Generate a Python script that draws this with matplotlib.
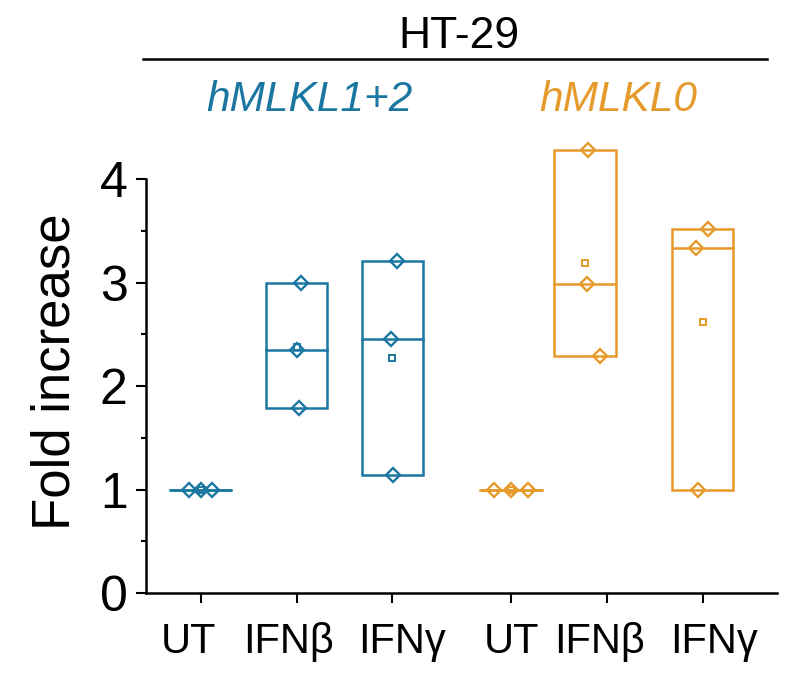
import matplotlib
matplotlib.use("Agg")
import matplotlib.pyplot as plt
import matplotlib.patches as patches
import matplotlib.transforms as mtransforms
from matplotlib.lines import Line2D
import numpy as np

plt.rcParams['font.family'] = ['Liberation Sans', 'DejaVu Sans']

conditions = ['UT', 'IFNβ', 'IFNγ']
cell_line = 'HT-29'
constructs = ['hMLKL1+2', 'hMLKL0']
colors = ['#1b77a1', '#e59a2b']

# fold increase, three replicates per condition
mlkl12_values = [[1.0, 1.0, 1.0], [3.0, 2.35, 1.79], [3.21, 2.45, 1.14]]
mlkl0_values = [[1.0, 1.0, 1.0], [4.28, 2.99, 2.29], [3.52, 3.33, 1.0]]

# layout only
xpos = [1, 2, 3, 4.24, 5.24, 6.24]
box_shift = [0, 0, 0, 0, -0.23, 0]
jitter = [[-0.12, 0, 0.12], [0.045, 0, 0.024], [0.046, -0.017, 0.007],
          [-0.18, 0, 0.18], [0.03, 0.02, 0.16], [0.055, -0.07, -0.05]]
label_shift_px = [-12, -8, 10, 0, -7, 11]
box_w = 0.64

W, H = 809, 687
fig = plt.figure(figsize=(W / 100, H / 100), dpi=100)
ax = fig.add_axes([146 / W, 1 - 593 / H, (777 - 146) / W, (593 - 137.6) / H])

groups = mlkl12_values + mlkl0_values
for i, vals in enumerate(groups):
    col = colors[0] if i < 3 else colors[1]
    vals = np.array(vals)
    c = xpos[i] + box_shift[i]
    lo, hi = vals.min(), vals.max()
    med = np.median(vals)
    ax.add_patch(patches.Rectangle((c - box_w / 2, lo), box_w, hi - lo,
                                   fill=False, edgecolor=col, lw=1.8, zorder=2))
    ax.plot([c - box_w / 2, c + box_w / 2], [med, med], color=col, lw=1.8, zorder=2)
    ax.plot(c + np.array(jitter[i]), vals, 'D', ms=7, mfc='none', mec=col,
            mew=1.7, zorder=3, clip_on=False)
    ax.plot([c], [vals.mean()], 's', ms=4.2, mfc='none', mec=col, mew=1.4,
            zorder=3, clip_on=False)

ax.set_xlim(0.428, 7.016)
ax.set_ylim(0, 4.4)
for s in ['top', 'right']:
    ax.spines[s].set_visible(False)
ax.spines['left'].set_bounds(0, 4)
ax.spines['left'].set_linewidth(1.8)
ax.spines['bottom'].set_linewidth(1.8)

ax.set_yticks([0, 1, 2, 3, 4])
ax.set_yticks([0.5, 1.5, 2.5, 3.5], minor=True)
ax.set_xticks(xpos)
ax.set_xticklabels(conditions * 2)
ax.tick_params(axis='y', which='major', length=7.2, width=1.5, labelsize=36, pad=6)
ax.tick_params(axis='y', which='minor', length=3.6, width=1.5)
ax.tick_params(axis='x', which='major', length=7.2, width=1.5, labelsize=30, pad=14)

# labels in the original sit a little off their ticks
for lab, dx in zip(ax.get_xticklabels(), label_shift_px):
    lab.set_transform(lab.get_transform() +
                      mtransforms.ScaledTranslation(dx / 100, 0, fig.dpi_scale_trans))

fig.text(55 / W, 1 - 372 / H, 'Fold increase', rotation=90, ha='center',
         va='center', fontsize=38)

# header: cell line, bar, construct names
fig.text(459 / W, 1 - 37 / H, cell_line, ha='center', va='center', fontsize=32)
fig.add_artist(Line2D([142.7 / W, 766.7 / W], [1 - 58.7 / H, 1 - 58.7 / H],
                      color='black', lw=1.8))
fig.text(309.5 / W, 1 - 100 / H, constructs[0], ha='center', va='center',
         fontsize=30.5, style='italic', color=colors[0])
fig.text(618.5 / W, 1 - 100 / H, constructs[1], ha='center', va='center',
         fontsize=30.5, style='italic', color=colors[1])

fig.savefig('out.png', dpi=100)
